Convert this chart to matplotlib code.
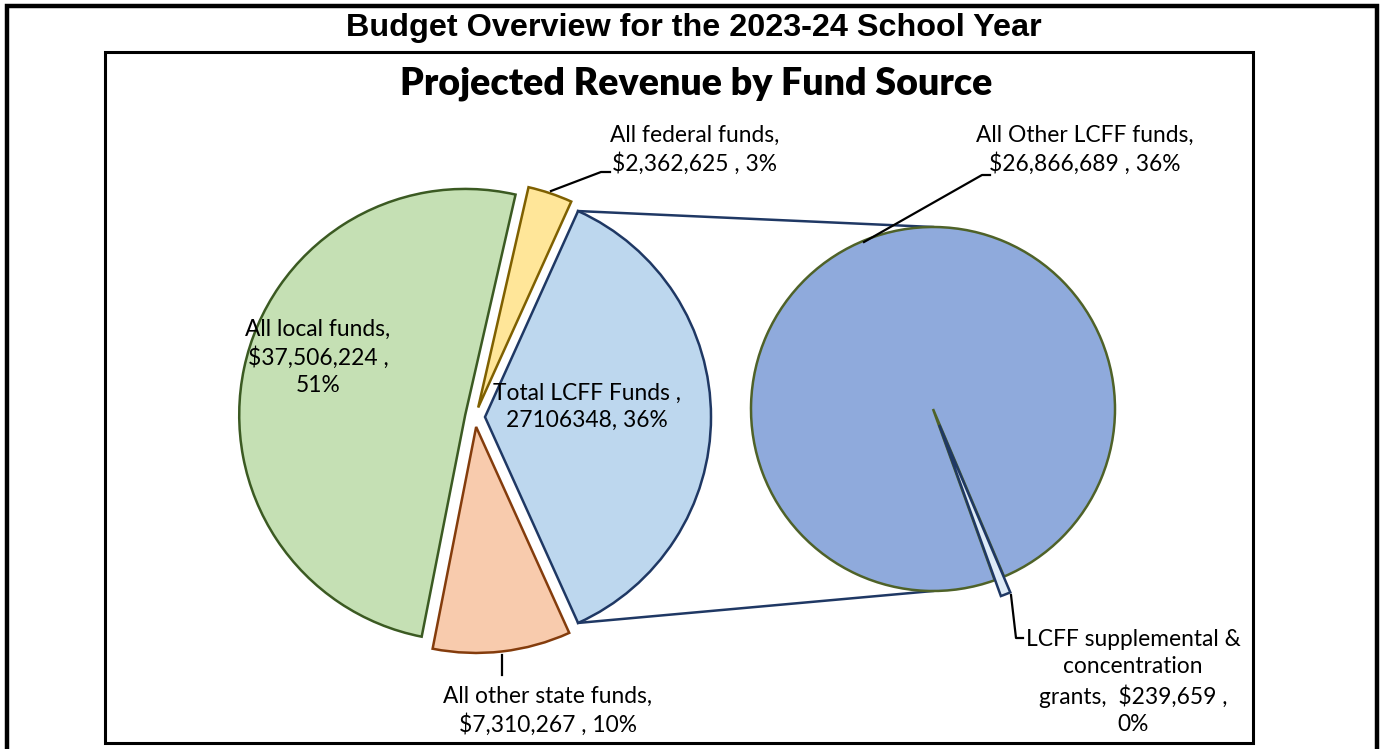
import matplotlib
matplotlib.use("Agg")
import matplotlib.pyplot as plt
from matplotlib.patches import Rectangle
import numpy as np

# ---- data ----
main_labels = ["Total LCFF Funds", "All federal funds", "All local funds", "All other state funds"]
main_values = [27106348, 2362625, 37506224, 7310267]
main_pcts = ["36%", "3%", "51%", "10%"]
sub_labels = ["LCFF supplemental & concentration grants", "All Other LCFF funds"]
sub_values = [239659, 26866689]
sub_pcts = ["0%", "36%"]

main_colors = ["#BDD7EE", "#FFE699", "#C5E0B4", "#F8CBAD"]
main_edges = ["#1F3864", "#7F6000", "#3B5A22", "#843C0C"]
sub_colors = ["#DEEBF7", "#8FAADC"]
sub_edges = ["#1F3864", "#4F6228"]

W, H = 1380, 749
fig = plt.figure(figsize=(W / 100, H / 100), dpi=100)
ax = fig.add_axes([0, 0, 1, 1])

def Y(y):
    return H - y

FONT = "Lato"
fs = 16.4

# main pie
total = sum(main_values)
start = -main_values[0] / total * 180.0
wedges, _ = ax.pie(main_values, colors=main_colors, startangle=start, counterclock=True,
                   center=(475, Y(417)), radius=226, explode=[10] * 4,
                   wedgeprops=dict(linewidth=1.8), frame=True)
for w, ec in zip(wedges, main_edges):
    w.set_edgecolor(ec)

# sub pie
sub_total = sum(sub_values)
sub_span = sub_values[0] / sub_total * 360.0
sub_start = -68.6 - sub_span / 2
swedges, _ = ax.pie(sub_values, colors=sub_colors, startangle=sub_start, counterclock=True,
                    center=(933, Y(409)), radius=182, explode=[17, 0],
                    wedgeprops=dict(linewidth=1.8), frame=True)
for w, ec in zip(swedges, sub_edges):
    w.set_edgecolor(ec)
swedges[1].set_zorder(1)
swedges[0].set_zorder(2)

ax.set_xlim(0, W)
ax.set_ylim(0, H)
ax.set_aspect("equal")
ax.axis("off")

# borders
ax.add_patch(Rectangle((6.5, -5), 1370, Y(6) + 5, fill=False, lw=3.2, ec="black"))
ax.add_patch(Rectangle((105, Y(743)), 1148, 743 - 52, fill=False, lw=2.2, ec="black"))

# titles
ax.text(694, Y(28), "Budget Overview for the 2023-24 School Year", ha="center", va="center",
        fontsize=23.3, fontweight="bold", family="Liberation Sans")
ax.text(696, Y(84), "Projected Revenue by Fund Source", ha="center", va="center",
        fontsize=27, fontweight="heavy", family=FONT)

# connector lines
lw0 = wedges[0]
cx, cy = lw0.center
r = lw0.r
t1, t2 = np.deg2rad(lw0.theta1), np.deg2rad(lw0.theta2)
p_top = (cx + r * np.cos(t2), cy + r * np.sin(t2))
p_bot = (cx + r * np.cos(t1), cy + r * np.sin(t1))
scx, scy = 933, Y(409)
ax.plot([p_top[0], scx], [p_top[1], scy + 182], color="#1F3864", lw=1.8, zorder=0)
ax.plot([p_bot[0], scx], [p_bot[1], scy - 182], color="#1F3864", lw=1.8, zorder=0)

def money(v):
    return "${:,}".format(v)

tk = dict(ha="center", va="center", fontsize=fs, family=FONT, linespacing=1.35)

# labels
ax.text(318, Y(357), f"{main_labels[2]},\n{money(main_values[2])} ,\n{main_pcts[2]}", **tk)
ax.text(587, Y(407), f"{main_labels[0]} ,\n{main_values[0]}, {main_pcts[0]}", **tk)
ax.text(695, Y(150), f"{main_labels[1]},\n{money(main_values[1])} , {main_pcts[1]}", **tk)
ax.text(548, Y(711), f"{main_labels[3]},\n{money(main_values[3])} , {main_pcts[3]}", **tk)
ax.text(1085, Y(150), f"{sub_labels[1]},\n{money(sub_values[1])} , {sub_pcts[1]}", **tk)
ax.text(1133, Y(682), "LCFF supplemental &\nconcentration\ngrants,  " + money(sub_values[0]) + " ,\n" + sub_pcts[0], **tk)

# leader lines
lk = dict(color="black", lw=1.6, zorder=5)
ax.plot([551, 601, 610], [Y(191), Y(172), Y(172)], **lk)
ax.plot([864, 982, 990], [Y(242), Y(175), Y(175)], **lk)
ax.plot([502, 502], [Y(655), Y(675)], **lk)
ax.plot([1011, 1016, 1023], [Y(595), Y(638), Y(638)], **lk)

fig.savefig("out.png", dpi=100)
